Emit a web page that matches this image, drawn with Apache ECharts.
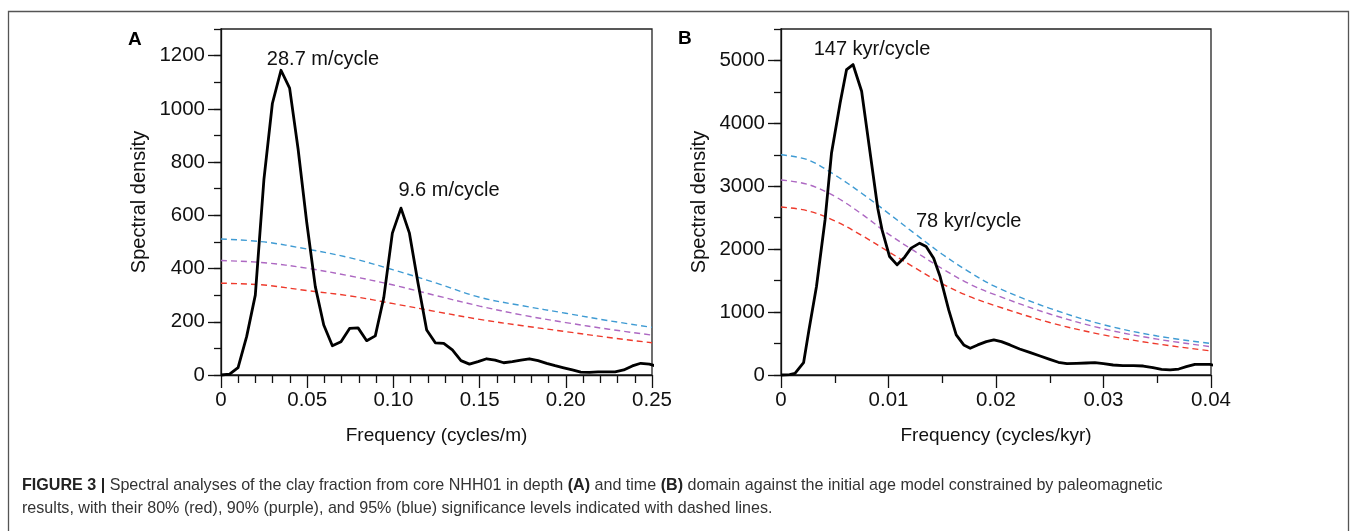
<!DOCTYPE html>
<html>
<head>
<meta charset="utf-8">
<script src="https://cdn.jsdelivr.net/npm/echarts@6/dist/echarts.min.js"></script>
<style>
  html, body { margin: 0; padding: 0; background: #fff; }
  #chart { width: 1357px; height: 531px; }
</style>
</head>
<body>
<div id="chart"></div>
<script>
// Panel A: spectrum of the clay fraction in the depth domain
const freqA = [0, 0.005, 0.0099, 0.0149, 0.0199, 0.0249, 0.0298, 0.0348, 0.0398, 0.0447,
  0.0497, 0.0547, 0.0596, 0.0646, 0.0696, 0.0746, 0.0795, 0.0845, 0.0895, 0.0944,
  0.0994, 0.1044, 0.1093, 0.1143, 0.1193, 0.1243, 0.1292, 0.1342, 0.1392, 0.1441,
  0.1491, 0.1541, 0.159, 0.164, 0.169, 0.174, 0.1789, 0.1839, 0.1889, 0.1938,
  0.1988, 0.2038, 0.2087, 0.2137, 0.2187, 0.2237, 0.2286, 0.2336, 0.2386, 0.2435,
  0.2485, 0.2535];
const powerA = [0, 3, 28, 145, 300, 735, 1020, 1145, 1078, 850,
  575, 332, 188, 110, 125, 175, 177, 129, 147, 290,
  533, 627, 533, 345, 169, 121, 119, 94, 54, 41,
  50, 61, 56, 46, 50, 56, 61, 54, 44, 35,
  27, 19, 11, 10, 12, 12, 12, 19, 34, 44,
  41, 31];
// significance levels (80 / 90 / 95 %) for panel A
const sigFreqA = [0, 0.025, 0.05, 0.075, 0.1, 0.125, 0.15, 0.175, 0.2, 0.225, 0.25];
const sig80A = [345, 338, 317, 297, 268, 238, 209, 185, 163, 141, 121];
const sig90A = [430, 422, 401, 372, 338, 298, 259, 225, 197, 172, 150];
const sig95A = [511, 500, 473, 440, 395, 345, 292, 260, 232, 204, 179];
const peaksA = [{ index: 7, text: '28.7 m/cycle', dist: 1, dx: 42 },
                { index: 21, text: '9.6 m/cycle', dist: 8, dx: 48 }];

// Panel B: spectrum of the clay fraction in the time domain
const freqB = [0, 0.0008, 0.0013, 0.0021, 0.0026, 0.0033, 0.0041, 0.0047, 0.0055, 0.0061,
  0.0067, 0.0075, 0.009, 0.0094, 0.0101, 0.0108, 0.0115, 0.0121, 0.0129, 0.0135,
  0.0142, 0.0148, 0.0156, 0.0163, 0.017, 0.0176, 0.0183, 0.0191, 0.0198, 0.0205,
  0.0213, 0.0222, 0.0232, 0.0241, 0.025, 0.0258, 0.0266, 0.0275, 0.0284, 0.0292,
  0.03, 0.0309, 0.0318, 0.0328, 0.0337, 0.0346, 0.0354, 0.0362, 0.037, 0.0377,
  0.0385, 0.0393, 0.0399, 0.0405];
const powerB = [0, 5, 27, 196, 716, 1406, 2468, 3530, 4325, 4855,
  4935, 4510, 2650, 2308, 1883, 1751, 1873, 2017, 2096, 2043,
  1857, 1565, 1035, 637, 478, 425, 478, 530, 557, 530,
  478, 414, 355, 302, 249, 202, 180, 186, 191, 196,
  180, 159, 148, 148, 143, 116, 90, 80, 95, 132,
  170, 170, 170, 143];
const sigFreqB = [0, 0.0025, 0.005, 0.0075, 0.01, 0.0125, 0.015, 0.0175, 0.02, 0.025, 0.03, 0.035, 0.04];
const sig80B = [2670, 2610, 2450, 2220, 1960, 1700, 1450, 1250, 1098, 835, 637, 494, 382];
const sig90B = [3100, 3030, 2840, 2560, 2240, 1960, 1690, 1450, 1270, 970, 735, 570, 450];
const sig95B = [3500, 3420, 3180, 2890, 2570, 2240, 1920, 1640, 1400, 1060, 800, 620, 500];
const peaksB = [{ index: 10, text: '147 kyr/cycle', dist: 5, dx: 19 },
                { index: 18, text: '78 kyr/cycle', dist: 12, dx: 49 }];

// tick labels
const xTicksA = ['0', '0.05', '0.10', '0.15', '0.20', '0.25'];
const yTicksA = ['0', '200', '400', '600', '800', '1000', '1200'];
const xTicksB = ['0', '0.01', '0.02', '0.03', '0.04'];
const yTicksB = ['0', '1000', '2000', '3000', '4000', '5000'];

const FONT = '"Liberation Sans", Arial, Helvetica, sans-serif';
const INK = '#111';
const COLORS = { s80: '#ee3a2c', s90: '#ad68c2', s95: '#3f9bd3' };

const pairs = (xs, ys) => xs.map((x, i) => [x, ys[i]]);

function xAxis(grid, max, step, minorSplit, labels, name) {
  return {
    gridIndex: grid, type: 'value', min: 0, max: max, interval: step,
    axisLine: { show: true, onZero: false, lineStyle: { color: INK, width: 1.3 } },
    axisTick: { show: true, inside: false, length: 13, lineStyle: { color: INK, width: 1.3 } },
    minorTick: { show: true, splitNumber: minorSplit, length: 8, lineStyle: { color: INK, width: 1.3 } },
    splitLine: { show: false }, minorSplitLine: { show: false },
    axisLabel: {
      margin: 15, fontSize: 20.5, color: INK, fontFamily: FONT,
      formatter: v => labels[Math.round(v / step)] ?? ''
    },
    name: name, nameLocation: 'middle', nameGap: 51, nameMoveOverlap: false,
    nameTextStyle: { fontSize: 19, color: INK, fontFamily: FONT }
  };
}

// minor (all) ticks + labels on one axis, long major ticks on a twin axis
function yAxes(grid, max, minorStep, majorStep, labels) {
  const majors = labels.map((_, i) => i * majorStep);
  return [{
    gridIndex: grid, type: 'value', min: 0, max: max, interval: minorStep, position: 'left',
    axisLine: { show: true, onZero: false, lineStyle: { color: INK, width: 1.3 } },
    axisTick: { show: true, inside: false, length: 7, lineStyle: { color: INK, width: 1.3 } },
    splitLine: { show: false },
    axisLabel: {
      margin: 16, fontSize: 20.5, color: INK, fontFamily: FONT,
      formatter: v => (v % majorStep === 0 ? (labels[v / majorStep] ?? '') : '')
    },
    name: 'Spectral density', nameLocation: 'middle', nameGap: 72, nameMoveOverlap: false,
    nameTextStyle: { fontSize: 20, color: INK, fontFamily: FONT }
  }, {
    gridIndex: grid, type: 'value', min: 0, max: max, position: 'left', offset: 0,
    axisLine: { show: false },
    axisTick: { show: true, inside: false, length: 13, customValues: majors,
                lineStyle: { color: INK, width: 1.3 } },
    splitLine: { show: false },
    axisLabel: { show: false }
  }];
}

function sigSeries(grid, yIdx, xs, ys, color) {
  return {
    type: 'line', xAxisIndex: grid, yAxisIndex: yIdx, data: pairs(xs, ys),
    smooth: 0.35, showSymbol: false, symbol: 'none', silent: true,
    lineStyle: { color: color, width: 1.4, type: [6, 4] }, z: 2
  };
}

function spectrum(grid, yIdx, xs, ys, peaks) {
  return {
    type: 'line', xAxisIndex: grid, yAxisIndex: yIdx, data: pairs(xs, ys),
    showSymbol: false, symbol: 'none', clip: false, silent: true,
    lineStyle: { color: '#000', width: 2.8, join: 'round' }, z: 5,
    markPoint: {
      symbol: 'circle', symbolSize: 0, silent: true,
      data: peaks.map(p => ({
        coord: [xs[p.index], ys[p.index]],
        label: {
          show: true, formatter: p.text, position: 'top', distance: p.dist,
          offset: [p.dx, 0], fontSize: 20, color: INK, fontFamily: FONT
        }
      }))
    }
  };
}

const yA = yAxes(0, 1300, 100, 200, yTicksA);
const yB = yAxes(1, 5500, 500, 1000, yTicksB);

const captionText =
  '{b|FIGURE 3 |} Spectral analyses of the clay fraction from core NHH01 in depth {b|(A)} and time {b|(B)} domain against the initial age model constrained by paleomagnetic\n' +
  'results, with their 80% (red), 90% (purple), and 95% (blue) significance levels indicated with dashed lines.';

const option = {
  animation: false,
  backgroundColor: '#fff',
  grid: [
    { left: 221, top: 29, width: 431, height: 346, show: true, borderColor: '#222', borderWidth: 1.3, backgroundColor: 'transparent' },
    { left: 781, top: 29, width: 430, height: 346, show: true, borderColor: '#222', borderWidth: 1.3, backgroundColor: 'transparent' }
  ],
  xAxis: [
    xAxis(0, 0.25, 0.05, 5, xTicksA, 'Frequency (cycles/m)'),
    xAxis(1, 0.04, 0.01, 2, xTicksB, 'Frequency (cycles/kyr)')
  ],
  yAxis: [yA[0], yA[1], yB[0], yB[1]],
  series: [
    sigSeries(0, 0, sigFreqA, sig80A, COLORS.s80),
    sigSeries(0, 0, sigFreqA, sig90A, COLORS.s90),
    sigSeries(0, 0, sigFreqA, sig95A, COLORS.s95),
    spectrum(0, 0, freqA, powerA, peaksA),
    sigSeries(1, 2, sigFreqB, sig80B, COLORS.s80),
    sigSeries(1, 2, sigFreqB, sig90B, COLORS.s90),
    sigSeries(1, 2, sigFreqB, sig95B, COLORS.s95),
    spectrum(1, 2, freqB, powerB, peaksB)
  ],
  graphic: [
    { type: 'polyline', silent: true,
      shape: { points: [[8.5, 531], [8.5, 11.5], [1348.5, 11.5], [1348.5, 531]] },
      style: { stroke: '#555', lineWidth: 1.3, fill: null } },
    { type: 'text', left: 128, top: 30, silent: true,
      style: { text: 'A', font: 'bold 19px ' + FONT, fill: '#000' } },
    { type: 'text', left: 678, top: 29, silent: true,
      style: { text: 'B', font: 'bold 19px ' + FONT, fill: '#000' } },
    { type: 'text', silent: true, x: 22, y: 474,
      style: {
        text: captionText, fontSize: 16.1, fontFamily: FONT, fill: '#333', lineHeight: 23,
        rich: {
          b: { fontSize: 16.1, fontFamily: FONT, fontWeight: 'bold', fill: '#222', lineHeight: 23 }
        }
      } }
  ]
};

const chart = echarts.init(document.getElementById('chart'), null, { renderer: 'canvas' });
chart.setOption(option);
</script>
</body>
</html>
